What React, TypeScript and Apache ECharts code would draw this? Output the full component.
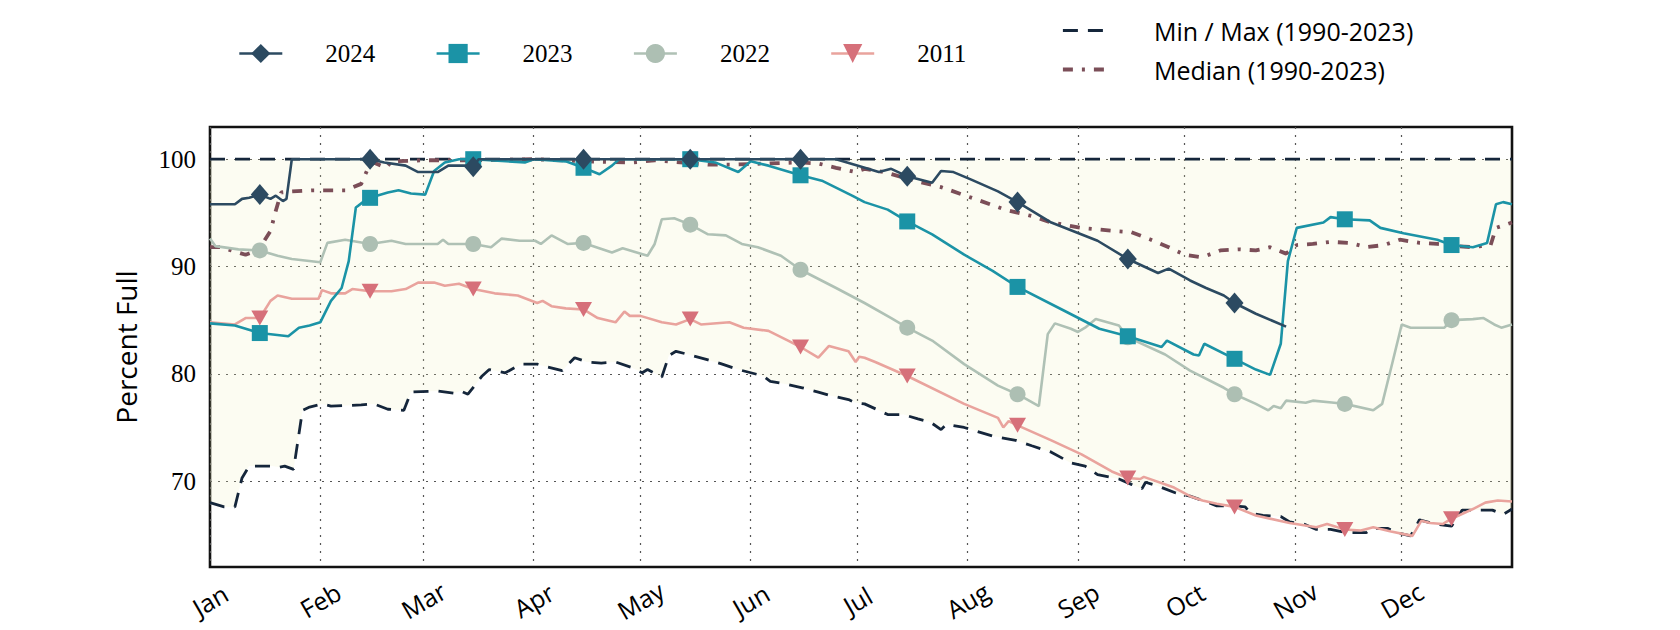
import React, { useEffect, useRef } from 'react';
import * as echarts from 'echarts';

// ---- axis / category data ----
const monthNames = ['Jan', 'Feb', 'Mar', 'Apr', 'May', 'Jun', 'Jul', 'Aug', 'Sep', 'Oct', 'Nov', 'Dec'];
const monthStartDays = [0, 31, 60, 91, 121, 152, 182, 213, 244, 274, 305, 335];
const markerDays = [14, 45, 74, 105, 135, 166, 196, 227, 258, 288, 319, 349];
const yearEndDay = 366;
const yTicks = [70, 80, 90, 100];

// ---- series values: [day of year, percent full] ----
const pct2024: [number, number][] = [
  [0, 95.8], [7, 95.8], [9, 96.3], [11, 96.4], [14, 96.7], [17, 96.3], [18.5, 96.6], [20.5, 96.1], [21.5, 96.3],
  [23, 100], [45, 100], [49, 99.7], [55, 99.4], [58.5, 98.8], [64, 98.8], [67, 99.4], [72, 99.4], [74, 99.3],
  [75.5, 100], [105, 100], [135, 100], [166, 100], [176, 100], [185, 99.1], [188, 98.8], [191.5, 99.1],
  [196, 98.4], [203, 97.8], [205.5, 98.9], [209, 98.8], [214, 98.1], [221.5, 97.0], [227, 96.0], [236.5, 94.1],
  [249.5, 92.4], [258, 90.7], [266.5, 89.4], [269.5, 89.8], [275.5, 88.7], [280, 88.0], [285, 87.3],
  [288, 86.6], [294, 85.6], [302.5, 84.4],
];

const pct2023: [number, number][] = [
  [0, 84.7], [7, 84.5], [14, 83.8], [22, 83.5], [25, 84.3], [28, 84.5], [31, 84.8], [34, 86.8], [37, 88.0],
  [39, 90.5], [41, 95.5], [43, 96.0], [45, 96.4], [50, 96.9], [53, 97.1], [56.5, 96.8], [60.5, 96.7], [63, 98.9],
  [66, 99.7], [70, 100], [74, 100], [88.5, 99.7], [91, 100], [100, 99.8], [105, 99.2], [109.5, 98.6], [113, 99.4],
  [115, 100], [135, 100], [142, 99.7], [148.5, 98.8], [152, 99.8], [157, 99.4], [166, 98.5], [172, 98.0],
  [180.5, 96.6], [184, 96.0], [190.5, 95.3], [196, 94.2], [203, 93.0], [212, 91.1], [220, 89.6], [227, 88.1],
  [240, 85.9], [250, 84.2], [258, 83.5], [267.5, 82.5], [269, 83.1], [276.5, 81.8], [278, 81.7], [279.5, 82.8],
  [288, 81.4], [294, 80.4], [298, 79.9], [301, 82.8], [303, 90.5], [305.5, 93.6], [313, 94.1], [315, 94.6],
  [319, 94.4], [326, 94.3], [329, 93.6], [335.5, 93.1], [345, 92.5], [349, 92.0], [355, 91.8], [359, 92.2],
  [361.5, 95.8], [363.5, 96.0], [366, 95.8],
];

const pct2022: [number, number][] = [
  [0, 92.6], [1.5, 91.9], [8, 91.6], [14, 91.5], [19, 91.0], [23, 90.7], [31, 90.4], [33, 92.2], [38, 92.5],
  [45, 92.1], [51, 92.4], [55, 92.1], [64, 92.1], [65.5, 92.5], [67, 92.1], [74, 92.1], [79, 91.8], [82, 92.6],
  [87, 92.4], [91.4, 92.4], [93, 92.1], [96, 92.9], [100.5, 92.1], [105, 92.2], [113, 91.3], [116, 91.7],
  [123, 91.0], [125, 92.1], [127, 94.4], [130.5, 94.5], [135, 93.9], [140, 93.0], [145, 92.9], [149.5, 92.1],
  [154, 91.8], [160.5, 91.0], [166, 89.7], [176, 88.0], [184, 86.6], [191.5, 85.2], [196, 84.3], [203, 83.1],
  [212, 80.9], [221.5, 78.9], [227, 78.1], [233, 77.0], [235.5, 83.7], [237.5, 84.7], [242, 84.2], [244, 83.9],
  [246, 84.3], [249, 85.1], [255.5, 84.5], [258, 83.4], [268.5, 81.8], [275.5, 80.3], [285, 78.7], [288, 78.1],
  [294, 77.2], [297.5, 76.6], [299, 77.0], [301, 76.8], [302.5, 77.5], [308, 77.3], [310, 77.5], [316, 77.3],
  [319, 77.2], [327, 76.6], [329.5, 77.2], [332.5, 81.2], [335, 84.6], [337.5, 84.3], [347, 84.3], [349, 85.0],
  [355, 85.1], [358, 85.2], [361, 84.6], [363, 84.3], [366, 84.6],
];

const pct2011: [number, number][] = [
  [0, 84.8], [7, 84.6], [10, 85.2], [14, 85.2], [17, 86.8], [19, 87.3], [23, 87.0], [30.5, 87.0], [31.5, 87.8],
  [34, 87.5], [38, 87.5], [40, 87.9], [45, 87.7], [51, 87.7], [55, 87.9], [58.5, 88.5], [63, 88.5], [66, 88.2],
  [70, 88.4], [74, 87.9], [80, 87.5], [86.5, 87.3], [92, 86.6], [93.5, 86.8], [96, 86.3], [100, 86.1], [105, 86.0],
  [109, 85.2], [114, 84.8], [116.5, 85.8], [118, 85.4], [121, 85.4], [127, 84.8], [131, 84.6], [135, 85.1],
  [138, 84.6], [146, 84.8], [150, 84.3], [157, 84.0], [162.5, 83.1], [166, 82.5], [171, 81.5], [174, 82.6],
  [179.5, 82.1], [181.5, 81.1], [182.5, 81.6], [184, 81.5], [187, 81.1], [196, 79.8], [212, 77.2], [221.5, 75.9],
  [223, 75.0], [224.5, 75.6], [227, 75.2], [236.5, 73.8], [245, 72.5], [253.5, 70.9], [258, 70.3], [261.5, 70.2],
  [262.5, 70.4], [271, 69.4], [275.5, 68.6], [279, 68.2], [283, 67.9], [288, 67.6], [294, 66.8], [303.5, 66.1],
  [311, 65.7], [314, 66.0], [319, 65.5], [323.5, 65.4], [327, 65.7], [332, 65.3], [338, 64.9], [340.5, 66.3],
  [343, 66.1], [346.5, 66.0], [349, 66.5], [355, 67.4], [358.5, 68.0], [362, 68.2], [366, 68.1],
];

const minPct: [number, number][] = [
  [0, 68.0], [4, 67.6], [7, 67.6], [9, 70.3], [11, 71.4], [17.5, 71.4], [19.5, 71.3], [21, 71.4], [23.5, 71.1],
  [26, 76.6], [28, 76.9], [31.5, 77.2], [34, 77.0], [42.5, 77.1], [46, 77.2], [50, 76.7], [54.5, 76.6], [56.5, 78.3],
  [64, 78.4], [68.5, 78.2], [70.5, 78.4], [72.5, 78.1], [76.5, 79.8], [78.5, 80.4], [83, 80.1], [87.5, 80.9],
  [92, 80.9], [94, 80.7], [99, 80.3], [102.5, 81.5], [106, 81.1], [110, 81.0], [114, 81.1], [118.5, 80.6],
  [121.5, 80.1], [123, 80.4], [127, 79.7], [129, 81.7], [131, 82.1], [134.5, 81.8], [140, 81.3], [144, 80.9],
  [148.5, 80.4], [152, 80.1], [155.5, 79.8], [157.5, 79.3], [162.5, 79.0], [166.5, 78.7], [171, 78.3], [174, 78.0],
  [179.5, 77.6], [181.5, 77.3], [184, 77.2], [188, 76.6], [190.5, 76.2], [195, 76.2], [199, 75.8], [202.5, 75.5],
  [205.5, 74.8], [207, 75.3], [212, 75.0], [220, 74.2], [226.5, 73.8], [231, 73.3], [236.5, 72.7], [242, 71.7],
  [246, 71.4], [249.5, 70.6], [255.5, 70.2], [259, 69.7], [262, 69.3], [263, 69.9], [266, 69.6], [271.5, 68.9],
  [275.5, 68.6], [279, 68.2], [283, 67.7], [287.5, 67.7], [291, 67.6], [292.5, 67.0], [296, 66.8], [301, 66.7],
  [303.5, 66.2], [307.5, 66.0], [311, 65.5], [315, 65.5], [319.5, 65.2], [325, 65.2], [326.5, 65.6], [331, 65.6],
  [333.5, 65.2], [337.5, 64.9], [340, 66.4], [344.5, 66.0], [349, 65.8], [352, 67.3], [356.5, 67.3], [360.5, 67.3],
  [363.5, 66.9], [366, 67.4],
];

const maxPct: [number, number][] = [[0, 100], [366, 100]];

const medianPct: [number, number][] = [
  [0, 91.8], [3, 91.8], [6, 91.5], [10, 91.1], [13.5, 91.5], [17, 93.3], [18.5, 95.2], [20, 96.9], [23, 97.0],
  [28.5, 97.1], [38, 97.1], [42.5, 97.7], [44.5, 99.2], [46, 99.7], [49.5, 99.2], [51, 99.8], [60, 99.9],
  [75, 99.9], [91, 100], [105, 99.8], [119, 99.7], [125, 99.9], [140, 99.5], [147, 99.5], [157, 99.6],
  [166, 99.7], [171, 99.6], [176, 99.2], [181.5, 98.8], [184, 99.1], [189.5, 98.8], [198, 98.0], [205.5, 97.4],
  [215, 96.3], [223.5, 95.3], [231, 94.7], [236.5, 94.1], [245, 93.6], [254.5, 93.3], [259, 93.2], [264.5, 92.5],
  [269.5, 91.8], [274, 91.1], [278, 90.9], [280, 91.0], [284, 91.5], [289.5, 91.6], [294, 91.5], [298, 91.8],
  [302.5, 91.2], [305.5, 92.0], [310, 92.1], [315, 92.3], [320.5, 92.2], [325, 91.8], [330, 92.0], [334.5, 92.5],
  [340, 92.2], [345, 92.1], [350.5, 91.9], [355, 91.8], [360, 92.0], [361.5, 93.6], [366, 94.1],
];

const NAME_MINMAX = 'Min / Max (1990-2023)';
const NAME_MEDIAN = 'Median (1990-2023)';

function withMarkers(pts: [number, number][]) {
  return pts.map(([d, v]) =>
    markerDays.indexOf(d) >= 0 ? { value: [d, v] } : { value: [d, v], symbol: 'none' }
  );
}

export default function App() {
  const ref = useRef<HTMLDivElement>(null);

  useEffect(() => {
    if (!ref.current) return;
    const chart = echarts.init(ref.current, null, { renderer: 'svg' });

    const yearLine = (
      name: string,
      pts: [number, number][],
      lineColor: string,
      markColor: string,
      symbol: string,
      symbolSize: number | number[],
      symbolRotate = 0,
      z = 3
    ) => ({
      type: 'line',
      name,
      data: withMarkers(pts),
      symbol,
      symbolSize,
      symbolRotate,
      showSymbol: true,
      z,
      lineStyle: { color: lineColor, width: 2.6 },
      itemStyle: { color: markColor, opacity: 1 },
      emphasis: { disabled: true },
    });

    const option: any = {
      animation: false,
      grid: {
        left: 210,
        right: 168,
        top: 127,
        bottom: 63,
        show: true,
        borderColor: '#111',
        borderWidth: 2.6,
        backgroundColor: 'transparent',
        outerBoundsMode: 'none',
      },
      xAxis: {
        type: 'value',
        min: 0,
        max: yearEndDay,
        axisLine: { show: false },
        axisTick: { show: false, customValues: monthStartDays },
        axisLabel: {
          customValues: monthStartDays,
          formatter: (v: number) => monthNames[monthStartDays.indexOf(v)] ?? '',
          rotate: 30,
          align: 'center',
          verticalAlign: 'middle',
          margin: 33,
          fontFamily: 'Open Sans',
          fontSize: 25,
          color: '#000',
        },
        splitLine: { show: true, lineStyle: { type: [2, 6], color: '#555', width: 1.2 } },
      },
      yAxis: {
        type: 'value',
        min: 62,
        max: 103,
        name: 'Percent Full',
        nameLocation: 'middle',
        nameGap: 70,
        nameTextStyle: { fontFamily: 'Open Sans', fontSize: 28, color: '#000' },
        axisLine: { show: false },
        axisTick: { show: false, customValues: yTicks },
        axisLabel: {
          customValues: yTicks,
          fontFamily: 'Liberation Serif',
          fontSize: 25,
          color: '#000',
          margin: 14,
        },
        splitLine: { show: true, lineStyle: { type: [2, 6], color: '#555', width: 1.2 } },
      },
      legend: [
        {
          data: ['2024', '2023', '2022', '2011'],
          left: 238,
          top: 41,
          padding: 0,
          itemWidth: 43,
          itemHeight: 24,
          itemGap: 60,
          selectedMode: false,
          lineStyle: { width: 'inherit' },
          textStyle: { fontFamily: 'Liberation Serif', fontSize: 25, color: '#000', padding: [0, 0, 0, 38] },
        },
        {
          data: [
            { name: NAME_MINMAX, itemStyle: { opacity: 0 } },
            { name: NAME_MEDIAN, itemStyle: { opacity: 0 } },
          ],
          orient: 'vertical',
          left: 1061,
          top: 18,
          padding: 0,
          itemWidth: 48,
          itemHeight: 28,
          itemGap: 14,
          selectedMode: false,
          lineStyle: { width: 'inherit' },
          textStyle: { fontFamily: 'Open Sans', fontSize: 25, color: '#000', padding: [0, 0, 0, 38] },
        },
      ],
      series: [
        {
          type: 'custom',
          name: 'band',
          silent: true,
          z: 1,
          data: [[0, 100]],
          renderItem: (_params: any, api: any) => {
            const lower = minPct.map((p) => api.coord(p));
            const upper = maxPct.slice().reverse().map((p) => api.coord(p));
            return {
              type: 'polygon',
              shape: { points: lower.concat(upper) },
              style: { fill: 'rgba(240,240,185,0.18)' },
            };
          },
        },
        {
          type: 'line',
          name: NAME_MINMAX,
          data: maxPct,
          symbol: 'none',
          z: 2,
          lineStyle: { color: '#15263b', width: 2.8, type: [15, 10] },
          itemStyle: { color: '#15263b' },
          emphasis: { disabled: true },
        },
        {
          type: 'line',
          name: NAME_MINMAX,
          data: minPct,
          symbol: 'none',
          z: 2,
          lineStyle: { color: '#15263b', width: 2.8, type: [15, 10] },
          itemStyle: { color: '#15263b' },
          emphasis: { disabled: true },
        },
        {
          type: 'line',
          name: NAME_MEDIAN,
          data: medianPct,
          symbol: 'none',
          z: 2,
          lineStyle: { color: '#7b4e58', width: 3.8, type: [10, 9, 3, 9] },
          itemStyle: { color: '#7b4e58' },
          emphasis: { disabled: true },
        },
        yearLine('2011', pct2011, '#e9a39d', '#d6707a', 'triangle', [17, 15], 180, 3),
        yearLine('2022', pct2022, '#afc1b5', '#adbfb3', 'circle', 16, 0, 4),
        yearLine('2023', pct2023, '#1b93a6', '#1b93a6', 'rect', 16, 0, 5),
        yearLine('2024', pct2024, '#2c4a61', '#2c4a61', 'diamond', [18, 21], 0, 6),
      ],
    };

    chart.setOption(option);
    return () => chart.dispose();
  }, []);

  return (
    <div
      ref={ref}
      style={{ position: 'absolute', left: 0, top: 0, width: 1680, height: 630, background: '#fff' }}
    />
  );
}
